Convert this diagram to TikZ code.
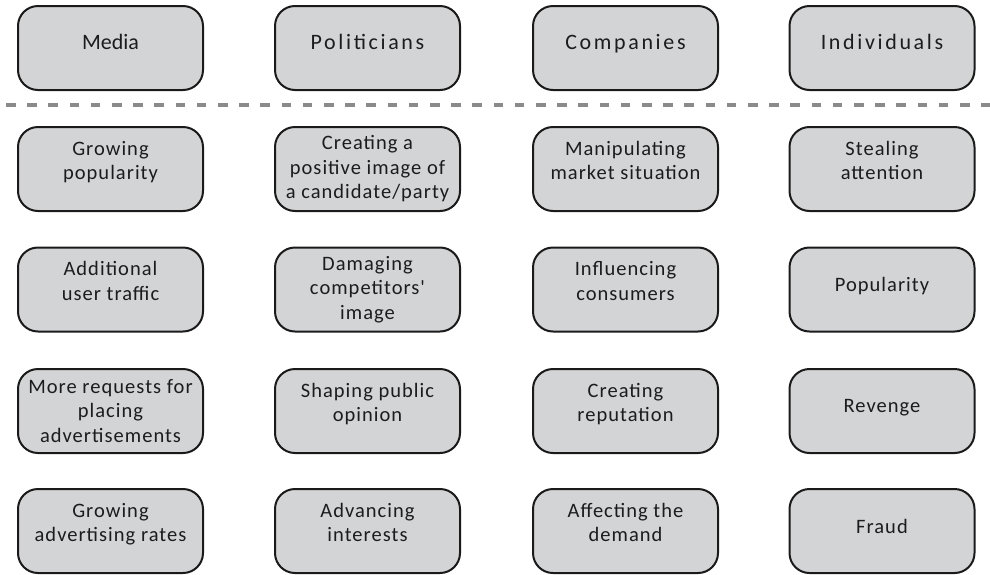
\documentclass[tikz,border=0pt]{standalone}
\usepackage{fontspec}
\newfontfamily\headfont[LetterSpace=12]{Carlito}
\newfontfamily\mediafont{Carlito}
\newfontfamily\bodyfont[LetterSpace=5]{Carlito}
\definecolor{boxfill}{HTML}{D3D4D6}
\definecolor{boxline}{HTML}{1A1A1A}
\definecolor{dashgray}{HTML}{8A8A8A}
\definecolor{txt}{HTML}{1C1C1C}
\begin{document}
\begin{tikzpicture}[x=1pt,y=-1pt,
  card/.style={draw=boxline, line width=2pt, fill=boxfill, rounded corners=20pt,
    minimum width=185pt, minimum height=84pt, inner sep=0pt, align=center, text=txt},
  headcard/.style={card, font=\headfont\fontsize{22}{26}\selectfont, text depth=12pt},
  bodycard/.style={card, font=\bodyfont\fontsize{20.5}{24.5}\selectfont},
  bodyone/.style={bodycard, text depth=10pt},
  bodytwo/.style={bodycard, text depth=17pt},
  bodythree/.style={bodycard},
  sep/.style={draw=dashgray, line width=4.5pt, dash pattern=on 9.5pt off 11.7pt}]
\useasboundingbox (0,0) rectangle (990,574);
% headers
\node[headcard, font=\mediafont\fontsize{22}{26}\selectfont] (h1) at (110.5,48) {Media};
\node[headcard] (h2) at (367.5,48) {Politicians};
\node[headcard] (h3) at (625.5,48) {Companies};
\node[headcard] (h4) at (882,48) {Individuals};
% separator
\coordinate (dl) at (6,105);
\coordinate (dr) at (990,105);
\draw[sep] (dl) -- (dr);
% row 1
\node[bodytwo] (r11) at (110.5,169) {Growing\\popularity};
\node[bodythree] (r12) at (367.5,169) {Creating a\\positive image of\\a candidate/party};
\node[bodytwo] (r13) at (625.5,169) {Manipulating\\market situation};
\node[bodytwo] (r14) at (882,169) {Stealing\\attention};
% row 2
\node[bodytwo] (r21) at (110.5,289.5) {Additional\\user traffic};
\node[bodythree] (r22) at (367.5,289.5) {Damaging\\competitors'\\image};
\node[bodytwo] (r23) at (625.5,289.5) {Influencing\\consumers};
\node[bodyone] (r24) at (882,289.5) {Popularity};
% row 3
\node[bodythree] (r31) at (110.5,411) {More requests for\\placing\\advertisements};
\node[bodytwo] (r32) at (367.5,411) {Shaping public\\opinion};
\node[bodytwo] (r33) at (625.5,411) {Creating\\reputation};
\node[bodyone] (r34) at (882,411) {Revenge};
% row 4
\node[bodytwo] (r41) at (110.5,531) {Growing\\advertising rates};
\node[bodytwo] (r42) at (367.5,531) {Advancing\\interests};
\node[bodytwo] (r43) at (625.5,531) {Affecting the\\demand};
\node[bodyone] (r44) at (882,531) {Fraud};
\end{tikzpicture}
\end{document}
